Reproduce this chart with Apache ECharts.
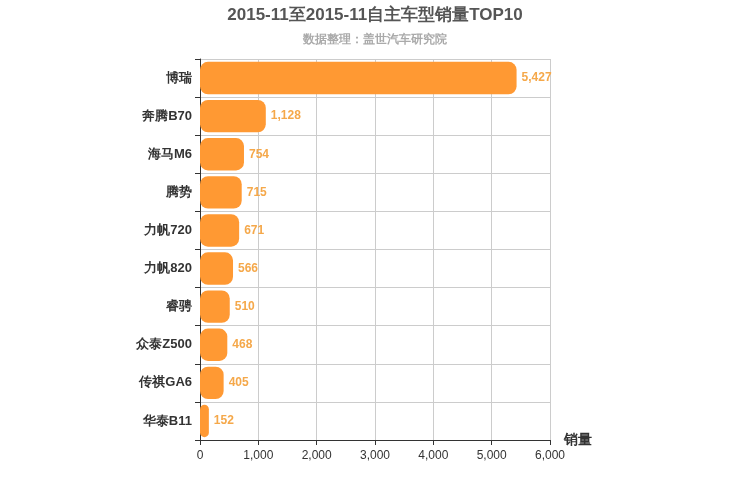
<!DOCTYPE html>
<html>
<head>
<meta charset="utf-8">
<script src="https://cdn.jsdelivr.net/npm/echarts@6/dist/echarts.min.js"></script>
<style>html,body{margin:0;padding:0;background:#fff}#main{width:750px;height:500px}</style>
</head>
<body>
<div id="main"></div>
<script>
// 车型和销量
let models = ['博瑞', '奔腾B70', '海马M6', '腾势', '力帆720', '力帆820', '睿骋', '众泰Z500', '传祺GA6', '华泰B11']
let sales = [5427, 1128, 754, 715, 671, 566, 510, 468, 405, 152]
let xTicks = [0, 1000, 2000, 3000, 4000, 5000, 6000]

let chart = echarts.init(document.getElementById('main'))
let option = {
    title: {
        text: '2015-11至2015-11自主车型销量TOP10',
        subtext: '数据整理：盖世汽车研究院',
        left: 'center',
        top: 2,
        itemGap: 10,
        textStyle: { fontSize: 17, fontWeight: 'bold', color: '#555' },
        subtextStyle: { fontSize: 12, fontWeight: 'bold', color: '#aaa' }
    },
    grid: { left: 200, right: 200, top: 59, bottom: 60, containLabel: false },
    xAxis: {
        type: 'value',
        min: xTicks[0],
        max: xTicks[xTicks.length - 1],
        interval: 1000,
        name: '销量',
        nameGap: 14,
        nameTextStyle: { fontSize: 14, fontWeight: 'bold', color: '#333', verticalAlign: 'middle' },
        axisLine: { show: true, lineStyle: { color: '#333' } },
        axisTick: { show: true },
        axisLabel: { color: '#333', fontSize: 12, margin: 10, formatter: v => v.toLocaleString('en-US') },
        splitLine: { lineStyle: { color: '#ccc' } }
    },
    yAxis: {
        type: 'category',
        data: models,
        inverse: true,
        axisLine: { lineStyle: { color: '#333' } },
        axisTick: { show: true },
        axisLabel: { color: '#333', fontSize: 13, fontWeight: 'bold' },
        splitLine: { show: true, lineStyle: { color: '#ccc' } }
    },
    series: [{
        type: 'bar',
        data: sales,
        barWidth: '85%',
        itemStyle: { color: '#ff9933', borderRadius: 8 },
        label: {
            show: true,
            position: 'right',
            color: '#f5a84a',
            fontWeight: 'bold',
            fontSize: 12,
            formatter: p => p.value.toLocaleString('en-US')
        }
    }]
}
chart.setOption(option)
</script>
</body>
</html>
